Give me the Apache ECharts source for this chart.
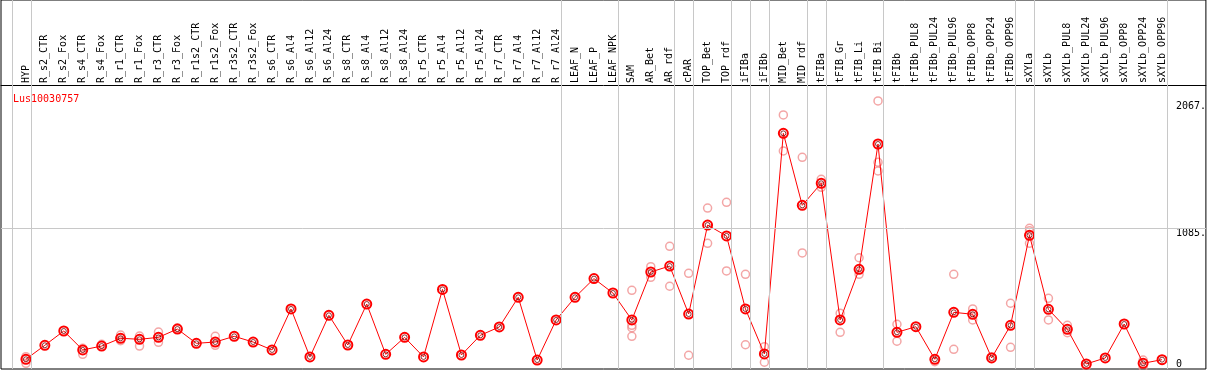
<!DOCTYPE html>
<html><head><meta charset="utf-8">
<script src="https://cdn.jsdelivr.net/npm/echarts@6/dist/echarts.min.js"></script>
<style>html,body{margin:0;padding:0;background:#fff}#c{width:1209px;height:370px}</style>
</head><body><div id="c"></div>
<script>
const geneName = 'Lus10030757';
const categories = ['HYP','R_s2_CTR','R_s2_Fox','R_s4_CTR','R_s4_Fox','R_r1_CTR','R_r1_Fox','R_r3_CTR','R_r3_Fox',
  'R_r1s2_CTR','R_r1s2_Fox','R_r3s2_CTR','R_r3s2_Fox','R_s6_CTR','R_s6_Al4','R_s6_Al12','R_s6_Al24',
  'R_s8_CTR','R_s8_Al4','R_s8_Al12','R_s8_Al24','R_r5_CTR','R_r5_Al4','R_r5_Al12','R_r5_Al24',
  'R_r7_CTR','R_r7_Al4','R_r7_Al12','R_r7_Al24','LEAF_N','LEAF_P','LEAF_NPK','SAM','AR_Bet','AR_rdf',
  'cPAR','TOP_Bet','TOP_rdf','iFIBa','iFIBb','MID_Bet','MID_rdf','tFIBa','tFIB_Gr','tFIB_Li','tFIB_Bi',
  'tFIBb','tFIBb_PUL8','tFIBb_PUL24','tFIBb_PUL96','tFIBb_OPP8','tFIBb_OPP24','tFIBb_OPP96',
  'sXYLa','sXYLb','sXYLb_PUL8','sXYLb_PUL24','sXYLb_PUL96','sXYLb_OPP8','sXYLb_OPP24','sXYLb_OPP96'];
const means = [75,183,293,147,177,237,229,244,308,198,208,252,208,147,463,93,414,185,501,113,
  244,93,614,108,260,324,553,69,378,553,697,586,378,748,794,424,1110,1026,463,116,
  1817,1262,1432,378,769,1735,283,326,75,437,422,85,337,1031,460,306,39,85,347,44,72];
const replicates = [[95,44],[],[],[160,113],[190],[262,218],[254,177],[285,206],[318],[],
  [252,183],[],[],[],[],[],[],[],[],[],
  [],[],[],[],[],[],[],[],[],[],
  [],[],[607,337,318,252],[789,707],[946,638],[738,106],[969,1241],[756,1285],[730,187],[172,52],
  [1959,1681],[1632,895],[1463,1401],[430,283],[858,730],[2067,1594,1527],[345,214],[],[56],[730,152],
  [463,378],[95],[507,167],[1085,1066,969],[545,378],[337,280],[18],[],[],[69,13],[]];
const yTickValues = [0, 1085, 2067];
const gridLineValue = 1085;
const groupEnds = [-1, 0, 28, 31, 34, 35, 37, 38, 39, 41, 42, 45, 52, 53, 60];

const FONT = 'DejaVu Sans Mono';
const meanData = means.map((v, i) => [i, v]);
const repData = [];
replicates.forEach((arr, i) => arr.forEach(v => repData.push([i, v])));
const markData = groupEnds.map(g => ({xAxis: g + 0.26})).concat([{yAxis: gridLineValue}]);

const chart = echarts.init(document.getElementById('c'), null, {renderer: 'canvas'});
const yMax = 2845.5;
const option = {
  animation: false,
  title: {text: geneName, left: 8, top: 89,
    textStyle: {color: '#ff0000', fontFamily: FONT, fontSize: 10, fontWeight: 'normal'}},
  grid: {left: 1, right: -1, top: 0, bottom: 1, show: true, borderColor: '#000', borderWidth: 1,
    backgroundColor: 'transparent'},
  xAxis: {type: 'value', min: (1 - 26) / 19, max: (1210 - 26) / 19, position: 'top', offset: -85,
    axisLine: {show: true, onZero: false, lineStyle: {color: '#000', width: 1}},
    axisTick: {show: false}, splitLine: {show: false},
    axisLabel: {customValues: categories.map((c, i) => i),
      formatter: v => categories[Math.round(v)] || '',
      rotate: -90, margin: 2, fontFamily: FONT, fontSize: 10, color: '#000'}},
  yAxis: [
    {type: 'value', min: 0, max: yMax, position: 'right',
      axisLine: {show: false}, axisTick: {show: false}, splitLine: {show: false},
      axisLabel: {inside: true, customValues: yTickValues.filter(v => v > 0),
        formatter: v => v + '.', align: 'left', verticalAlign: 'top', margin: 30,
        fontFamily: FONT, fontSize: 10, color: '#000'}},
    {type: 'value', min: 0, max: yMax, position: 'right',
      axisLine: {show: false}, axisTick: {show: false}, splitLine: {show: false},
      axisLabel: {inside: true, customValues: yTickValues.filter(v => v === 0),
        formatter: v => String(v), align: 'left', verticalAlign: 'bottom', margin: 30,
        fontFamily: FONT, fontSize: 10, color: '#000'}}
  ],
  series: [
    {type: 'scatter', data: [], z: 1, silent: true,
      markLine: {silent: true, symbol: 'none', label: {show: false},
        lineStyle: {color: '#c8c8c8', width: 1, type: 'solid'}, data: markData}},
    {type: 'scatter', data: repData, z: 2, symbol: 'circle', symbolSize: 8, silent: true,
      itemStyle: {color: 'rgba(0,0,0,0)', borderColor: '#f09090', borderWidth: 1.5}},
    {type: 'line', data: meanData, z: 3, silent: true,
      lineStyle: {color: '#ff0000', width: 1},
      symbol: 'circle', symbolSize: 9, showAllSymbol: true,
      itemStyle: {color: 'rgba(0,0,0,0)', borderColor: '#ff0000', borderWidth: 2}},
    {type: 'scatter', data: meanData, z: 4, symbol: 'circle', symbolSize: 5, silent: true,
      itemStyle: {color: 'rgba(0,0,0,0)', borderColor: '#700000', borderWidth: 1}}
  ]
};
chart.setOption(option);
</script>
</body></html>
